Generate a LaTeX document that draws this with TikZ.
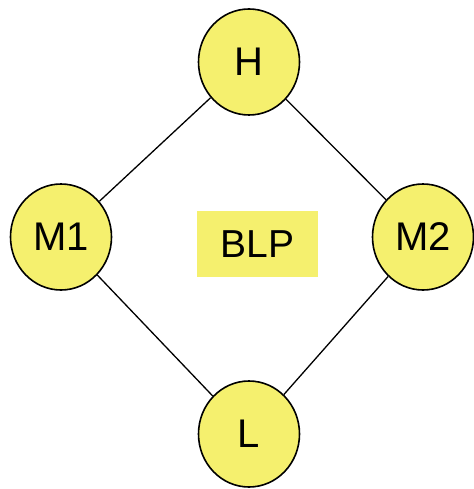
\documentclass[tikz,border=0pt]{standalone}
\usepackage{fontspec}
\setmainfont{Liberation Sans}
\usetikzlibrary{shapes.geometric}
\definecolor{blpyellow}{RGB}{245,240,110}
\tikzset{
    vertex/.style={ellipse, draw=black, line width=1.6pt, fill=blpyellow, inner sep=0pt,
        minimum width=101pt, minimum height=106pt, font=\fontsize{40}{40}\selectfont},
    edge/.style={line width=1.3pt}
}

\begin{document}
\begin{tikzpicture}[x=1pt,y=-1pt]
    \useasboundingbox (0,0) rectangle (473,489);
    \node[vertex] (H) at (249, 62) {H};
    \node[vertex] (M1) at (61, 237) {M1};
    \node[vertex] (M2) at (423, 237) {M2};
    \node[vertex] (L) at (249, 434) {L};
    \node[fill=blpyellow, minimum width=121pt, minimum height=66pt, inner sep=0pt,
        font=\fontsize{39}{39}\selectfont] (BLP) at (257.5, 244) {BLP};
    \draw[edge] (H) to (M1);
    \draw[edge] (H) to (M2);
    \draw[edge] (M1) to (L);
    \draw[edge] (M2) to (L);
\end{tikzpicture}
\end{document}
